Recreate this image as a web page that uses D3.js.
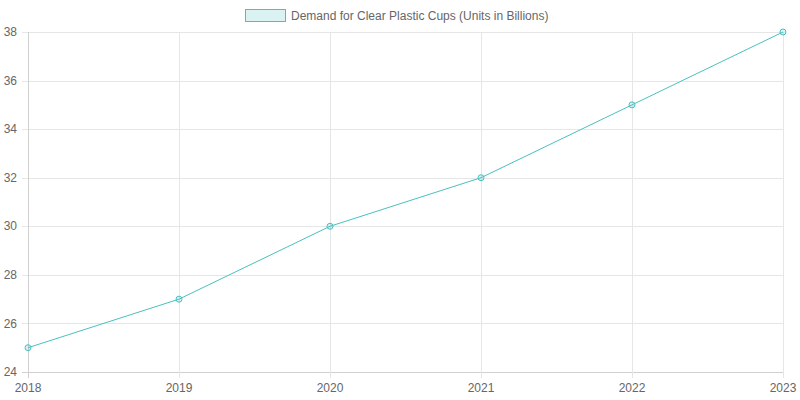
<!DOCTYPE html>
<html>
<head>
<meta charset="utf-8">
<script src="https://cdn.jsdelivr.net/npm/d3@7"></script>
<style>
body { margin: 0; background: #fff; }
text { font-family: "Liberation Sans", Arial, Helvetica, sans-serif; }
</style>
</head>
<body>
<svg width="800" height="400"></svg>
<script>
var years = ["2018", "2019", "2020", "2021", "2022", "2023"];
var demand = [25, 27, 30, 32, 35, 38];
var yTicks = [24, 26, 28, 30, 32, 34, 36, 38];
var seriesName = "Demand for Clear Plastic Cups (Units in Billions)";

var margins = {top: 32, right: 17, bottom: 28, left: 28};
var width = 800 - margins.left - margins.right;
var height = 400 - margins.top - margins.bottom;

var svg = d3.select("svg");
var g = svg.append("g")
    .attr("transform", "translate(" + margins.left + "," + margins.top + ")");

var xScale = d3.scalePoint().domain(years).range([0, width]);
var yScale = d3.scaleLinear().domain([24, 38]).range([height, 0]);

// grid lines
g.append("g").selectAll("line")
    .data(yTicks)
    .enter().append("line")
    .attr("x1", -6).attr("x2", width)
    .attr("y1", function(d) { return Math.round(yScale(d)) + 0.5; })
    .attr("y2", function(d) { return Math.round(yScale(d)) + 0.5; })
    .attr("stroke", function(d) { return d == 24 ? "#d0d0d0" : "#e6e6e6"; })
    .attr("stroke-width", 1);

g.append("g").selectAll("line")
    .data(years)
    .enter().append("line")
    .attr("x1", function(d) { return Math.round(xScale(d)) + 0.5; })
    .attr("x2", function(d) { return Math.round(xScale(d)) + 0.5; })
    .attr("y1", 0).attr("y2", height + 6)
    .attr("stroke", function(d, i) { return i == 0 ? "#d0d0d0" : "#e6e6e6"; })
    .attr("stroke-width", 1);

// tick labels
g.append("g").selectAll("text")
    .data(yTicks)
    .enter().append("text")
    .attr("x", -11)
    .attr("y", function(d) { return yScale(d); })
    .attr("dy", "0.35em")
    .attr("text-anchor", "end")
    .attr("font-size", 12)
    .attr("fill", "#666")
    .text(function(d) { return d; });

g.append("g").selectAll("text")
    .data(years)
    .enter().append("text")
    .attr("x", function(d) { return xScale(d); })
    .attr("y", height + 20)
    .attr("text-anchor", "middle")
    .attr("font-size", 12)
    .attr("fill", "#666")
    .text(function(d) { return d; });

// line
var line = d3.line()
    .x(function(d, i) { return xScale(years[i]); })
    .y(function(d) { return yScale(d); });

g.append("path")
    .datum(demand)
    .attr("d", line)
    .attr("fill", "none")
    .attr("stroke", "rgb(75,192,192)")
    .attr("stroke-width", 1);

g.append("g").selectAll("circle")
    .data(demand)
    .enter().append("circle")
    .attr("cx", function(d, i) { return xScale(years[i]); })
    .attr("cy", function(d) { return yScale(d); })
    .attr("r", 3)
    .attr("fill", "rgba(75,192,192,0.2)")
    .attr("stroke", "rgb(75,192,192)")
    .attr("stroke-width", 1);

// legend
var legend = svg.append("g").attr("id", "legend");
legend.append("rect")
    .attr("x", 245.5).attr("y", 9.5)
    .attr("width", 40).attr("height", 12)
    .attr("fill", "rgba(75,192,192,0.2)")
    .attr("stroke", "rgb(75,192,192)")
    .attr("stroke-width", 1);
legend.append("text")
    .attr("x", 291)
    .attr("y", 16)
    .attr("dy", "0.35em")
    .attr("font-size", 12)
    .attr("fill", "#666")
    .text(seriesName);
</script>
</body>
</html>
